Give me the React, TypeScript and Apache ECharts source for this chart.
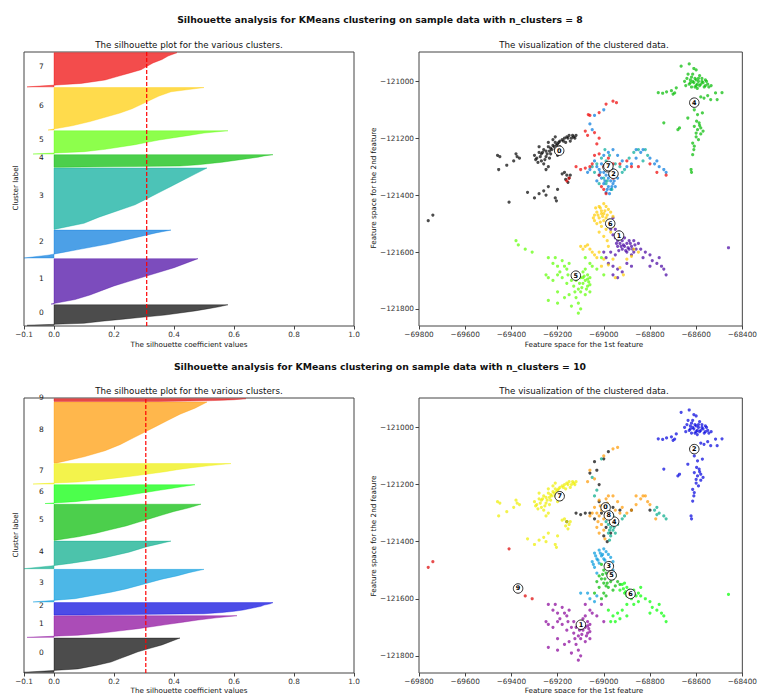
import React, { useEffect, useRef } from 'react';
import * as echarts from 'echarts';

const FONT = 'DejaVu Sans';

// ---------- silhouette data ----------
const silYMax8 = 4040;
const silYMax10 = 4060;
const sil8Sizes = [303, 670, 411, 906, 186, 343, 627, 504];
const sil8Values = [
  [-0.09, 0.1, 0.16, 0.23, 0.3, 0.37, 0.42, 0.47, 0.51, 0.55, 0.58],
  [-0.01, 0.07, 0.12, 0.16, 0.2, 0.25, 0.3, 0.35, 0.4, 0.44, 0.48],
  [-0.1, -0.02, 0.03, 0.08, 0.13, 0.18, 0.22, 0.26, 0.3, 0.34, 0.39],
  [0.0, 0.1, 0.15, 0.21, 0.27, 0.31, 0.35, 0.39, 0.43, 0.47, 0.51],
  [0.02, 0.42, 0.48, 0.52, 0.56, 0.59, 0.62, 0.65, 0.68, 0.7, 0.73],
  [-0.07, 0.1, 0.17, 0.22, 0.27, 0.31, 0.35, 0.4, 0.45, 0.5, 0.58],
  [-0.02, 0.06, 0.12, 0.17, 0.22, 0.26, 0.29, 0.32, 0.35, 0.39, 0.5],
  [-0.09, 0.09, 0.17, 0.21, 0.25, 0.29, 0.31, 0.33, 0.36, 0.38, 0.41],
];
const sil8Avg = 0.309;

const sil10Sizes = [506, 320, 183, 481, 407, 535, 278, 302, 898, 40];
const sil10Values = [
  [-0.1, 0.08, 0.14, 0.19, 0.22, 0.25, 0.28, 0.32, 0.36, 0.39, 0.42],
  [-0.09, 0.08, 0.16, 0.22, 0.28, 0.33, 0.38, 0.43, 0.48, 0.54, 0.61],
  [0.1, 0.5, 0.56, 0.6, 0.63, 0.65, 0.67, 0.69, 0.7, 0.72, 0.73],
  [-0.07, 0.07, 0.13, 0.19, 0.24, 0.28, 0.32, 0.36, 0.41, 0.45, 0.5],
  [-0.1, -0.01, 0.06, 0.12, 0.17, 0.21, 0.25, 0.28, 0.31, 0.35, 0.39],
  [0.0, 0.08, 0.14, 0.19, 0.24, 0.28, 0.32, 0.36, 0.4, 0.45, 0.49],
  [-0.03, 0.07, 0.13, 0.18, 0.23, 0.27, 0.31, 0.35, 0.39, 0.43, 0.47],
  [-0.07, 0.08, 0.15, 0.21, 0.27, 0.32, 0.37, 0.41, 0.46, 0.52, 0.59],
  [0.01, 0.1, 0.17, 0.22, 0.26, 0.3, 0.34, 0.38, 0.42, 0.47, 0.51],
  [0.35, 0.45, 0.5, 0.53, 0.56, 0.58, 0.6, 0.61, 0.62, 0.63, 0.64],
];
const sil10Avg = 0.306;

const silTicks = [-0.1, 0, 0.2, 0.4, 0.6, 0.8, 1.0];

// ---------- colors (nipy_spectral) ----------
const colors8 = ['#000000', '#4400a1', '#0077dd', '#00aa99', '#00bb00', '#5dff00', '#ffcc00', '#ee0000'];
const colors10 = ['#000000', '#880099', '#0000dd', '#0099dd', '#00aa88', '#00bb00', '#00ff00', '#eeee00', '#ff9900', '#dd0000'];

// ---------- scatter data ----------
const scatterYTicks = [-121800, -121600, -121400, -121200, -121000];

const ptsNE = [
  [-68640, -120990], [-68620, -120985], [-68600, -120995], [-68610, -121005], [-68590, -121000], [-68580, -121010],
  [-68570, -121005], [-68560, -121015], [-68630, -121010], [-68650, -121000], [-68600, -121015], [-68585, -120980],
  [-68615, -120975], [-68600, -120960], [-68550, -121010], [-68620, -121020], [-68595, -121025], [-68575, -120990],
  [-68565, -121020], [-68635, -120975], [-68665, -120947], [-68630, -120939], [-68610, -120955],
  [-68645, -121015], [-68625, -120995], [-68605, -120990], [-68595, -121010], [-68585, -121015], [-68575, -121000],
  [-68555, -121000], [-68545, -121020], [-68535, -121015], [-68615, -121000], [-68590, -120990], [-68625, -121005],
  [-68605, -121020], [-68560, -120995],
  [-68764, -121040], [-68728, -121037], [-68707, -121033], [-68693, -121041], [-68686, -121023], [-68700, -121045],
  [-68745, -121042], [-68566, -121059], [-68537, -121064], [-68509, -121064], [-68488, -121040], [-68516, -121041],
  [-68550, -121050], [-68580, -121055], [-68636, -121129], [-68594, -121117], [-68573, -121111], [-68608, -121100],
  [-68587, -121146], [-68608, -121158], [-68594, -121170], [-68580, -121164], [-68600, -121182], [-68615, -121217],
  [-68608, -121228], [-68615, -121258], [-68622, -121310], [-68620, -121320], [-68679, -121170], [-68672, -121164],
  [-68740, -121146], [-68600, -121195], [-68590, -121205], [-68580, -121185], [-68610, -121240],
  [-68585, -121155], [-68598, -121140], [-68570, -121175],
];

const ptsWest = [
  [-69300, -121260], [-69290, -121270], [-69280, -121250], [-69270, -121255], [-69260, -121240], [-69250, -121245],
  [-69240, -121230], [-69230, -121235], [-69220, -121225], [-69210, -121215], [-69200, -121220], [-69190, -121210],
  [-69180, -121205], [-69170, -121200], [-69160, -121195], [-69150, -121190], [-69140, -121200], [-69130, -121195],
  [-69120, -121190], [-69250, -121265], [-69230, -121255], [-69210, -121240], [-69190, -121230], [-69270, -121280],
  [-69260, -121290], [-69240, -121300], [-69250, -121310], [-69200, -121260], [-69185, -121250], [-69280, -121230],
  [-69240, -121215], [-69220, -121205], [-69165, -121215], [-69145, -121210], [-69210, -121195],
  [-69295, -121275], [-69275, -121265], [-69265, -121250], [-69245, -121255], [-69235, -121245], [-69225, -121240],
  [-69215, -121230], [-69205, -121225], [-69195, -121215], [-69175, -121210], [-69155, -121200], [-69135, -121190],
  [-69125, -121200], [-69255, -121275], [-69235, -121270], [-69285, -121285],
  [-69450, -121265], [-69455, -121310], [-69420, -121295], [-69390, -121280], [-69375, -121265], [-69365, -121270],
  [-69380, -121255], [-69460, -121260], [-69170, -121320], [-69160, -121330], [-69150, -121340], [-69155, -121355],
  [-69165, -121345], [-69180, -121325], [-69145, -121330], [-69240, -121370], [-69260, -121385], [-69280, -121395],
  [-69300, -121410], [-69250, -121400], [-69200, -121380], [-69210, -121410], [-69205, -121420], [-69330, -121390],
];
const ptsFarWest = [[-69410, -121425], [-69760, -121490], [-69740, -121470]];

const ptsSW = [
  [-69240, -121620], [-69220, -121640], [-69200, -121650], [-69180, -121630], [-69160, -121660], [-69150, -121640],
  [-69200, -121680], [-69220, -121700], [-69180, -121690], [-69160, -121710], [-69140, -121700], [-69130, -121720],
  [-69110, -121730], [-69100, -121690], [-69090, -121710], [-69080, -121700], [-69070, -121680], [-69060, -121690],
  [-69080, -121660], [-69090, -121670], [-69070, -121720], [-69100, -121740], [-69120, -121760], [-69110, -121780],
  [-69100, -121800], [-69110, -121815], [-69140, -121790], [-69170, -121760], [-69200, -121740], [-69240, -121690],
  [-69250, -121680], [-69240, -121770], [-69200, -121780], [-69060, -121640], [-69080, -121620], [-69050, -121650],
  [-69030, -121660], [-69000, -121680], [-69010, -121620], [-69130, -121680], [-69150, -121750], [-69080, -121750],
  [-69060, -121740], [-69210, -121620], [-69170, -121650], [-69120, -121700], [-69090, -121690], [-69065, -121705],
  [-69075, -121730], [-69105, -121710], [-69085, -121685], [-69070, -121695], [-69060, -121715], [-69095, -121725],
  [-69190, -121670], [-69155, -121680], [-69125, -121740],
];
const ptsSWOut = [[-69380, -121560], [-69370, -121575], [-69340, -121590], [-69310, -121600]];

// k = 8 central clusters
const k8c1 = [
  [-68980, -121500], [-68970, -121520], [-68960, -121540], [-68950, -121550], [-68940, -121560], [-68930, -121570],
  [-68920, -121560], [-68910, -121580], [-68900, -121570], [-68890, -121590], [-68880, -121580], [-68870, -121600],
  [-68860, -121590], [-68900, -121600], [-68920, -121590], [-68940, -121580], [-68890, -121560], [-68870, -121560],
  [-68850, -121570], [-68960, -121480], [-68950, -121520], [-68930, -121540], [-68910, -121550], [-68880, -121610],
  [-68895, -121585], [-68915, -121575], [-68935, -121595], [-68905, -121595], [-68885, -121570], [-68875, -121590],
  [-68925, -121580], [-68945, -121570], [-68865, -121575],
  [-68840, -121590], [-68820, -121600], [-68800, -121610],
  [-68790, -121630], [-68770, -121640], [-68750, -121650], [-68740, -121660], [-68730, -121680], [-68760, -121620],
  [-68800, -121650], [-68830, -121620], [-68990, -121620], [-68980, -121640], [-68960, -121650], [-68940, -121660],
  [-68920, -121670], [-68960, -121680], [-68970, -121600], [-68950, -121610], [-68900, -121640], [-68880, -121650],
  [-69000, -121600], [-68940, -121690], [-68460, -121585],
];
const k8c2 = [
  [-69040, -121280], [-69030, -121300], [-69020, -121310], [-69010, -121290], [-69000, -121320], [-68990, -121330],
  [-68980, -121340], [-68970, -121350], [-68960, -121360], [-68970, -121380], [-68980, -121370], [-68990, -121390],
  [-69000, -121360], [-69010, -121340], [-69020, -121330], [-69030, -121350], [-68950, -121330], [-68960, -121310],
  [-68940, -121340], [-68950, -121370], [-68975, -121395], [-68985, -121300], [-69000, -121260], [-68980, -121250],
  [-68960, -121240], [-68940, -121260], [-68920, -121280], [-68900, -121300], [-68880, -121290], [-68860, -121270],
  [-68840, -121250], [-68830, -121240], [-68860, -121240], [-68780, -121290], [-68770, -121280], [-68760, -121300],
  [-68740, -121310], [-68730, -121320], [-68800, -121270], [-69060, -121150], [-69000, -121100], [-69040, -121120],
  [-69050, -121170], [-69060, -121310], [-69070, -121320], [-68965, -121370], [-68985, -121380], [-68995, -121350],
  [-69015, -121320], [-68955, -121350], [-68975, -121330],
];
const k8c3 = [
  [-69030, -121290], [-69010, -121270], [-68990, -121280], [-68970, -121300], [-68950, -121290], [-68930, -121300],
  [-68920, -121320], [-68910, -121310], [-68890, -121270], [-68870, -121250], [-68850, -121240], [-68820, -121240],
  [-68810, -121260], [-68830, -121280], [-68990, -121360], [-69000, -121340], [-68970, -121320], [-69020, -121360],
  [-69040, -121320], [-69050, -121300], [-68995, -121240], [-68975, -121260], [-68965, -121380], [-68985, -121350],
];
const k8c6 = [
  [-69020, -121440], [-69000, -121430], [-68990, -121440], [-68980, -121450], [-69010, -121455], [-69030, -121460],
  [-69040, -121470], [-69000, -121465], [-68970, -121460], [-68960, -121475], [-69020, -121480], [-69000, -121490],
  [-68990, -121480], [-69030, -121500], [-69010, -121510], [-68990, -121520], [-68970, -121530], [-69020, -121530],
  [-69000, -121545], [-68985, -121560], [-69040, -121490], [-68980, -121500], [-68960, -121510], [-69015, -121445],
  [-69035, -121445], [-68995, -121455], [-69005, -121475], [-69025, -121470], [-69045, -121480], [-69015, -121495],
  [-68985, -121470], [-69010, -121465],
  [-69080, -121580], [-69060, -121590], [-69050, -121600],
  [-69040, -121610], [-69090, -121590], [-69020, -121600], [-69000, -121625], [-68980, -121645], [-68960, -121625],
  [-68930, -121655], [-68915, -121680], [-68950, -121690], [-69010, -121650], [-69100, -121580], [-68880, -121615],
  [-68870, -121590], [-68900, -121625], [-68850, -121600], [-68980, -121580], [-69070, -121575], [-69030, -121620],
];
const k8c7 = [
  [-68990, -121080], [-68960, -121070], [-68945, -121075], [-69020, -121110], [-69060, -121120], [-69080, -121175],
  [-69070, -121190], [-69040, -121180], [-69020, -121200], [-69030, -121220], [-69040, -121260], [-69050, -121290],
  [-69020, -121255], [-68980, -121270], [-68960, -121290], [-68930, -121290], [-68900, -121280], [-68880, -121300],
  [-68850, -121300], [-68800, -121290], [-68770, -121320], [-68730, -121330], [-69000, -121380], [-69010, -121370],
  [-68990, -121395], [-69120, -121300], [-69100, -121310], [-69080, -121305], [-69060, -121300], [-69150, -121340],
  [-69160, -121350], [-68960, -121340], [-69000, -121300], [-69020, -121330], [-69067, -121117],
];

// k = 10 central clusters
const k10c0 = [
  [-69060, -121160], [-69030, -121150], [-69020, -121200], [-69040, -121120], [-69000, -121110], [-68980, -121085],
  [-69120, -121300], [-69100, -121305], [-69080, -121300], [-69060, -121300], [-69000, -121280], [-68990, -121350],
  [-69000, -121380], [-68985, -121400], [-68970, -121370], [-69010, -121300], [-68800, -121290], [-68880, -121290],
  [-69160, -121330], [-69020, -121260], [-68960, -121280], [-68930, -121290], [-69040, -121320],
];
const k10c3 = [
  [-69040, -121440], [-69020, -121430], [-69000, -121425], [-68990, -121435], [-68980, -121445], [-69010, -121450],
  [-69030, -121460], [-69050, -121470], [-69000, -121460], [-68970, -121455], [-68960, -121470], [-69020, -121475],
  [-69040, -121490], [-68990, -121475], [-68980, -121490], [-69030, -121510], [-68960, -121500], [-69070, -121580],
  [-69060, -121600], [-69040, -121610], [-69030, -121590], [-69100, -121580], [-69015, -121440], [-69035, -121450],
  [-69025, -121465], [-69045, -121480], [-69005, -121445], [-68995, -121465],
];
const k10c4 = [
  [-68990, -121330], [-68980, -121340], [-68970, -121350], [-68960, -121360], [-68970, -121380], [-68980, -121370],
  [-68960, -121310], [-68950, -121330], [-68940, -121340], [-68950, -121370], [-68975, -121395], [-68965, -121320],
  [-68780, -121290], [-68770, -121280], [-68760, -121300], [-68740, -121310], [-68730, -121320], [-68770, -121305],
  [-69030, -121220], [-69040, -121240], [-69050, -121175], [-69010, -121110], [-68910, -121310], [-68920, -121320],
  [-68955, -121350], [-68975, -121360],
];
const k10c5 = [
  [-69010, -121480], [-69000, -121500], [-68990, -121510], [-68980, -121520], [-69010, -121530], [-69000, -121545],
  [-68990, -121555], [-68970, -121540], [-68960, -121530], [-68950, -121520], [-68940, -121540], [-68930, -121550],
  [-69020, -121520], [-69030, -121540], [-68980, -121560], [-68960, -121570], [-68950, -121555], [-68975, -121500],
  [-69020, -121560], [-69040, -121580], [-69000, -121580], [-69010, -121600], [-68990, -121590], [-68995, -121530],
  [-68985, -121545], [-69005, -121515],
];
const k10c6 = [
  [-68920, -121550], [-68900, -121560], [-68890, -121570], [-68880, -121580], [-68870, -121570], [-68860, -121590],
  [-68850, -121580], [-68840, -121590], [-68910, -121580], [-68900, -121590], [-68930, -121570], [-68880, -121600],
  [-68905, -121575], [-68885, -121590], [-68875, -121585], [-68915, -121565],
  [-68820, -121600], [-68800, -121610], [-68790, -121630], [-68770, -121640], [-68750, -121650], [-68740, -121660],
  [-68730, -121680], [-68760, -121620], [-68800, -121650], [-68850, -121610], [-68870, -121620], [-68900, -121620],
  [-68920, -121640], [-68940, -121650], [-68960, -121660], [-68950, -121680], [-68930, -121670], [-68980, -121640],
  [-68970, -121680], [-68900, -121660], [-68460, -121585], [-68840, -121560], [-68910, -121545],
];
const k10c8 = [
  [-69040, -121280], [-69030, -121300], [-69010, -121290], [-69000, -121270], [-68990, -121250], [-68980, -121240],
  [-68960, -121240], [-68940, -121260], [-68920, -121280], [-68900, -121300], [-68880, -121290], [-68860, -121270],
  [-68840, -121250], [-68830, -121240], [-68860, -121240], [-68810, -121260], [-68820, -121240], [-69020, -121310],
  [-69010, -121340], [-69030, -121350], [-69000, -121320], [-68970, -121300], [-68950, -121290], [-68930, -121300],
  [-68990, -121280], [-69020, -121255], [-69050, -121300], [-69060, -121310], [-69000, -121360], [-69020, -121370],
  [-68995, -121390], [-69060, -121150], [-69070, -121190], [-69040, -121180], [-69000, -121100], [-68960, -121075],
  [-68940, -121070], [-68800, -121270], [-68775, -121320], [-69015, -121275], [-68985, -121265], [-69025, -121330],
];

const clusters8 = [
  [...ptsWest, ...ptsFarWest], k8c1, k8c2, k8c3, ptsNE, [...ptsSW, ...ptsSWOut], k8c6, k8c7,
];
const clusters10 = [
  k10c0, ptsSW, ptsNE, k10c3, k10c4, k10c5, k10c6, ptsWest, k10c8, [...ptsFarWest, ...ptsSWOut],
];

const centers8 = [
  [-69193, -121244], [-68934, -121542], [-68958, -121325], [-68983, -121302],
  [-68608, -121075], [-69121, -121683], [-68972, -121500], [-68980, -121298],
];
const centers10 = [
  [-68992, -121280], [-69099, -121691], [-68608, -121076], [-68978, -121486], [-68955, -121330],
  [-68966, -121518], [-68884, -121583], [-69191, -121241], [-68978, -121308], [-69371, -121564],
];

const minusFmt = (d: number) => (v: number) => (v < 0 ? '\u2212' : '') + Math.abs(v).toFixed(d);

function silRender(sizes: number[], values: number[][], colors: string[]) {
  return (params: any, api: any) => {
    const i = params.dataIndex;
    let yLower = 10;
    for (let j = 0; j < i; j++) yLower += sizes[j] + 10;
    const size = sizes[i];
    const vals = values[i];
    const n = vals.length;
    const pts: number[][] = [api.coord([0, yLower])];
    vals.forEach((v, k) => pts.push(api.coord([v, yLower + (k / (n - 1)) * size])));
    pts.push(api.coord([0, yLower + size]));
    const lab = api.coord([-0.05, yLower + size / 2]);
    return {
      type: 'group',
      children: [
        {
          type: 'polygon',
          shape: { points: pts },
          style: { fill: colors[i], stroke: colors[i], lineWidth: 0.5, opacity: 0.7 },
        },
        {
          type: 'text',
          x: lab[0],
          y: lab[1] + 1,
          style: {
            text: String(i), fill: '#222', fontSize: 7.5, fontFamily: FONT,
            align: 'left', verticalAlign: 'bottom',
          },
        },
      ],
    };
  };
}

export default function App() {
  const ref = useRef<HTMLDivElement>(null);
  useEffect(() => {
    if (!ref.current) return;
    const chart = echarts.init(ref.current, undefined, { renderer: 'svg' });

    const grids = [
      { left: 24, top: 52, width: 330, height: 274 },
      { left: 419, top: 52, width: 330, height: 274 },
      { left: 24, top: 398, width: 330, height: 275 },
      { left: 419, top: 398, width: 330, height: 275 },
    ].map((g) => ({ ...g, show: true, borderColor: '#444', borderWidth: 1, backgroundColor: '#fff', containLabel: false }));

    const tickStyle = { color: '#444', width: 1 };
    const labelStyle = { fontSize: 7.3, color: '#333', fontFamily: FONT };

    const silX = (gi: number) => ({
      type: 'value', gridIndex: gi, min: -0.1, max: 1.0,
      axisLine: { show: false }, splitLine: { show: false },
      axisTick: { show: true, length: 3.5, customValues: silTicks, lineStyle: tickStyle },
      axisLabel: { ...labelStyle, margin: 5, customValues: silTicks, formatter: minusFmt(1) },
    });
    const scX = (gi: number) => ({
      type: 'value', gridIndex: gi, min: -69800, max: -68400, interval: 200,
      axisLine: { show: false }, splitLine: { show: false },
      axisTick: { show: true, length: 3.5, lineStyle: tickStyle },
      axisLabel: { ...labelStyle, margin: 5, formatter: minusFmt(0), showMinLabel: true, showMaxLabel: true },
    });
    const silY = (gi: number, max: number) => ({
      type: 'value', gridIndex: gi, min: 0, max, show: false,
    });
    const scY = (gi: number) => ({
      type: 'value', gridIndex: gi, min: -121860, max: -120897,
      axisLine: { show: false }, splitLine: { show: false },
      axisTick: { show: true, length: 3.5, customValues: scatterYTicks, lineStyle: tickStyle },
      axisLabel: { ...labelStyle, margin: 5, customValues: scatterYTicks, formatter: minusFmt(0) },
    });

    const series: any[] = [];
    series.push({
      type: 'custom', xAxisIndex: 0, yAxisIndex: 0, renderItem: silRender(sil8Sizes, sil8Values, colors8),
      data: sil8Sizes.map((_, i) => [0, i]), silent: true, z: 2,
    });
    series.push({
      type: 'custom', xAxisIndex: 2, yAxisIndex: 2, renderItem: silRender(sil10Sizes, sil10Values, colors10),
      data: sil10Sizes.map((_, i) => [0, i]), silent: true, z: 2,
    });
    series.push({
      type: 'line', xAxisIndex: 0, yAxisIndex: 0, data: [[sil8Avg, 0], [sil8Avg, silYMax8]],
      symbol: 'none', lineStyle: { color: '#ff0000', width: 1.2, type: [4, 2] }, z: 5, silent: true,
    });
    series.push({
      type: 'line', xAxisIndex: 2, yAxisIndex: 2, data: [[sil10Avg, 0], [sil10Avg, silYMax10]],
      symbol: 'none', lineStyle: { color: '#ff0000', width: 1.2, type: [4, 2] }, z: 5, silent: true,
    });

    const addScatter = (ax: number, clusters: number[][][], colors: string[], centers: number[][]) => {
      clusters.forEach((pts, i) => {
        series.push({
          type: 'scatter', xAxisIndex: ax, yAxisIndex: ax, data: pts, symbolSize: 3.2,
          itemStyle: { color: colors[i], opacity: 0.7 }, silent: true, z: 2,
        });
      });
      centers.forEach((c, i) => {
        series.push({
          type: 'scatter', xAxisIndex: ax, yAxisIndex: ax, data: [[c[0], c[1], i]], symbolSize: 9.5,
          itemStyle: { color: '#ffffff', borderColor: '#111', borderWidth: 0.9, opacity: 1 },
          label: {
            show: true, position: 'inside', formatter: (p: any) => String(p.value[2]),
            fontSize: 6.5, color: '#000', fontFamily: FONT, fontWeight: 'bold',
          },
          silent: true, z: 10 + i,
        });
      });
    };
    addScatter(1, clusters8, colors8, centers8);
    addScatter(3, clusters10, colors10, centers10);

    const txt = (x: number, y: number, text: string, size: number, opts: any = {}) => ({
      type: 'text', x, y, rotation: opts.rotation || 0, z: 100,
      style: {
        text, fontSize: size, fontFamily: FONT, fill: '#111', align: 'center', verticalAlign: 'middle',
        fontWeight: opts.bold ? 'bold' : 'normal',
      },
    });

    const graphic = [
      txt(380, 19, 'Silhouette analysis for KMeans clustering on sample data with n_clusters = 8', 9.3, { bold: true }),
      txt(380, 366, 'Silhouette analysis for KMeans clustering on sample data with n_clusters = 10', 9.3, { bold: true }),
      txt(189, 45, 'The silhouette plot for the various clusters.', 8.7),
      txt(584, 45, 'The visualization of the clustered data.', 8.7),
      txt(189, 391, 'The silhouette plot for the various clusters.', 8.7),
      txt(584, 391, 'The visualization of the clustered data.', 8.7),
      txt(189, 344, 'The silhouette coefficient values', 7.2),
      txt(584, 344, 'Feature space for the 1st feature', 7.2),
      txt(189, 690, 'The silhouette coefficient values', 7.2),
      txt(584, 690, 'Feature space for the 1st feature', 7.2),
      txt(15.7, 188, 'Cluster label', 7.2, { rotation: Math.PI / 2 }),
      txt(373, 188, 'Feature space for the 2nd feature', 7.2, { rotation: Math.PI / 2 }),
      txt(15.7, 535, 'Cluster label', 7.2, { rotation: Math.PI / 2 }),
      txt(373, 536, 'Feature space for the 2nd feature', 7.2, { rotation: Math.PI / 2 }),
    ];

    chart.setOption({
      animation: false,
      backgroundColor: '#ffffff',
      textStyle: { fontFamily: FONT },
      grid: grids,
      xAxis: [silX(0), scX(1), silX(2), scX(3)],
      yAxis: [silY(0, silYMax8), scY(1), silY(2, silYMax10), scY(3)],
      series,
      graphic,
    });
    return () => chart.dispose();
  }, []);

  return (
    <div
      ref={ref}
      style={{ position: 'absolute', left: 0, top: 0, width: 760, height: 693, background: '#fff' }}
    />
  );
}
